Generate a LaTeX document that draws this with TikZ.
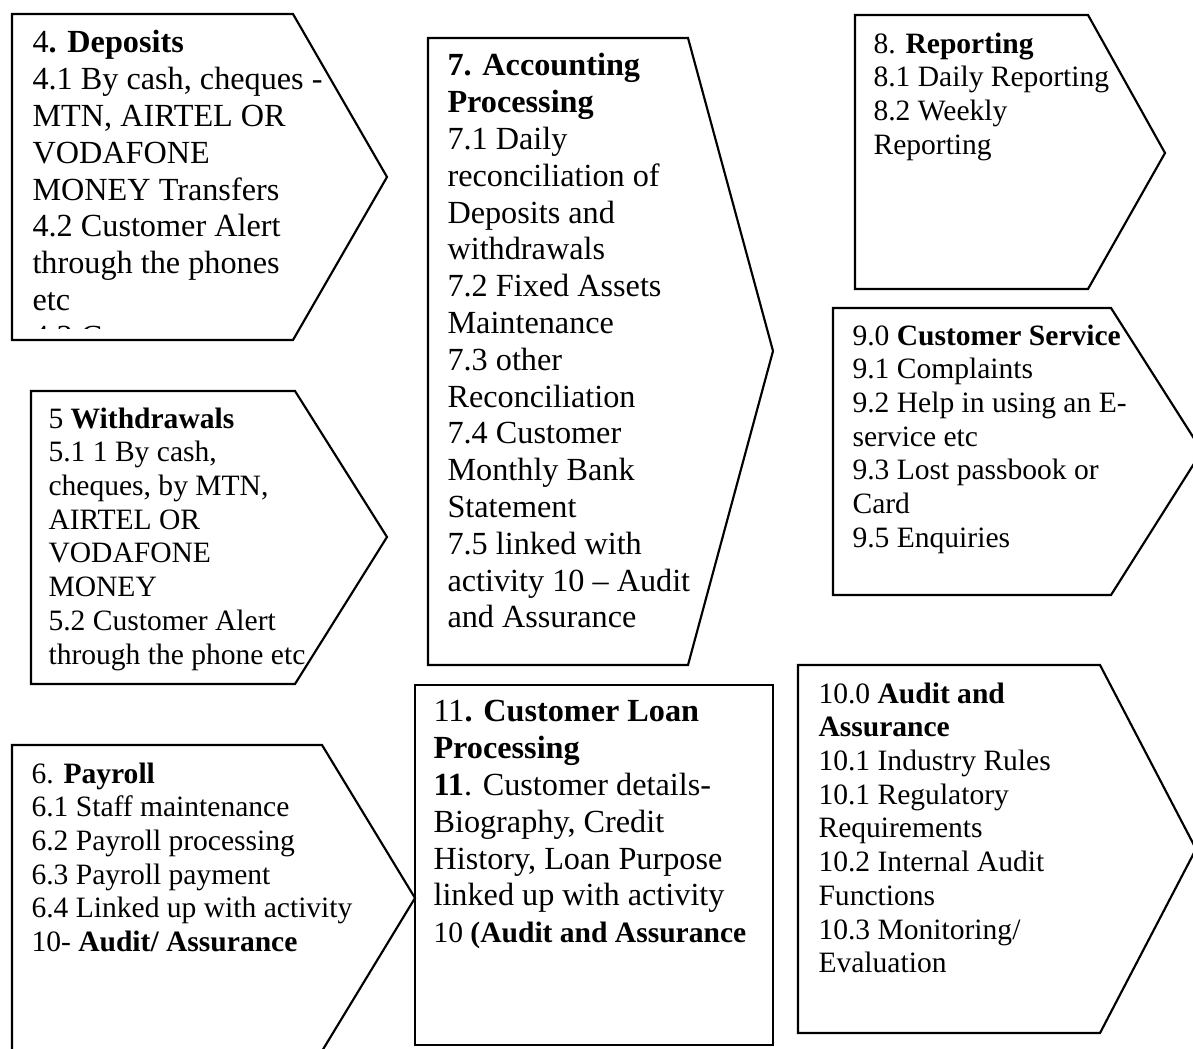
\documentclass[tikz,border=0pt]{standalone}
\usepackage{fontspec}
\setmainfont{Liberation Serif}
\begin{document}
\begin{tikzpicture}[x=0.3723pt, y=-0.3723pt,
    outline/.style={draw=black, line width=0.8pt, line join=miter},
    bigtext/.style={anchor=north west, inner sep=0pt, align=left, font=\fontsize{12}{13.7}\selectfont},
    smalltext/.style={anchor=north west, inner sep=0pt, align=left, font=\fontsize{11}{12.55}\selectfont}]

    % Drawing Parameters
    \pgfmathsetmacro{\figurewidth}{1193}%
    \pgfmathsetmacro{\figureheight}{1048}%

    \fill[white] (0,0) rectangle (\figurewidth,\figureheight);
    \useasboundingbox (0,0) rectangle (\figurewidth,\figureheight);

    %% Left column
    % 4. Deposits
    \draw[outline] (12,14) -- (293,14) -- (387,177) -- (293,340) -- (12,340) -- cycle;
    \begin{scope}
      \clip (12,14) rectangle (387,328);
      \node[bigtext] (deposits) at (32,30) {4\textbf{. Deposits}\\
        4.1 By cash, cheques -\\
        MTN, AIRTEL OR\\
        VODAFONE\\
        MONEY Transfers\\
        4.2 Customer Alert\\
        through the phones\\
        etc\\
        4.3 C};
    \end{scope}

    % 5 Withdrawals
    \draw[outline] (31,391) -- (295,391) -- (387,537) -- (295,684) -- (31,684) -- cycle;
    \node[smalltext] (withdrawals) at (48,407) {5 \textbf{Withdrawals}\\
      5.1 1 By cash,\\
      cheques, by MTN,\\
      AIRTEL OR\\
      VODAFONE\\
      MONEY\\
      5.2 Customer Alert\\
      through the phone etc};

    % 6. Payroll
    \draw[outline] (12,745) -- (322,745) -- (415,898) -- (322,1051) -- (12,1051) -- cycle;
    \node[smalltext] (payroll) at (31,762) {6. \textbf{Payroll}\\
      6.1 Staff maintenance\\
      6.2 Payroll processing\\
      6.3 Payroll payment\\
      6.4 Linked up with activity\\
      10- \textbf{Audit/ Assurance}};

    %% Middle column
    % 7. Accounting Processing
    \draw[outline] (428,38) -- (688,38) -- (773,351) -- (688,665) -- (428,665) -- cycle;
    \node[bigtext] (accounting) at (447,53) {\textbf{7. Accounting}\\
      \textbf{Processing}\\
      7.1 Daily\\
      reconciliation of\\
      Deposits and\\
      withdrawals\\
      7.2 Fixed Assets\\
      Maintenance\\
      7.3 other\\
      Reconciliation\\
      7.4 Customer\\
      Monthly Bank\\
      Statement\\
      7.5 linked with\\
      activity 10 – Audit\\
      and Assurance};

    % 11. Customer Loan Processing
    \draw[outline] (415,685) rectangle (773,1045);
    \node[bigtext] (loan) at (433,700) {11\textbf{. Customer Loan}\\
      \textbf{Processing}\\
      \textbf{11}. Customer details-\\
      Biography, Credit\\
      History, Loan Purpose\\
      linked up with activity\\
      {\fontsize{11}{13.7}\selectfont 10 \textbf{(Audit and Assurance}}};

    %% Right column
    % 8. Reporting
    \draw[outline] (855,15) -- (1088,15) -- (1165,153) -- (1088,289) -- (855,289) -- cycle;
    \node[smalltext] (reporting) at (873,32) {8. \textbf{Reporting}\\
      8.1 Daily Reporting\\
      8.2 Weekly\\
      Reporting};

    % 9.0 Customer Service
    \draw[outline] (833,308) -- (1111,308) -- (1202,451) -- (1111,595) -- (833,595) -- cycle;
    \node[smalltext] (service) at (852,324) {9.0 \textbf{Customer Service}\\
      9.1 Complaints\\
      9.2 Help in using an E-\\
      service etc\\
      9.3 Lost passbook or\\
      Card\\
      9.5 Enquiries};

    % 10.0 Audit and Assurance
    \draw[outline] (798,665) -- (1100,665) -- (1196,849) -- (1100,1033) -- (798,1033) -- cycle;
    \node[smalltext] (audit) at (818,682) {10.0 \textbf{Audit and}\\
      \textbf{Assurance}\\
      10.1 Industry Rules\\
      10.1 Regulatory\\
      Requirements\\
      10.2 Internal Audit\\
      Functions\\
      10.3 Monitoring/\\
      Evaluation};
  \end{tikzpicture}
\end{document}
